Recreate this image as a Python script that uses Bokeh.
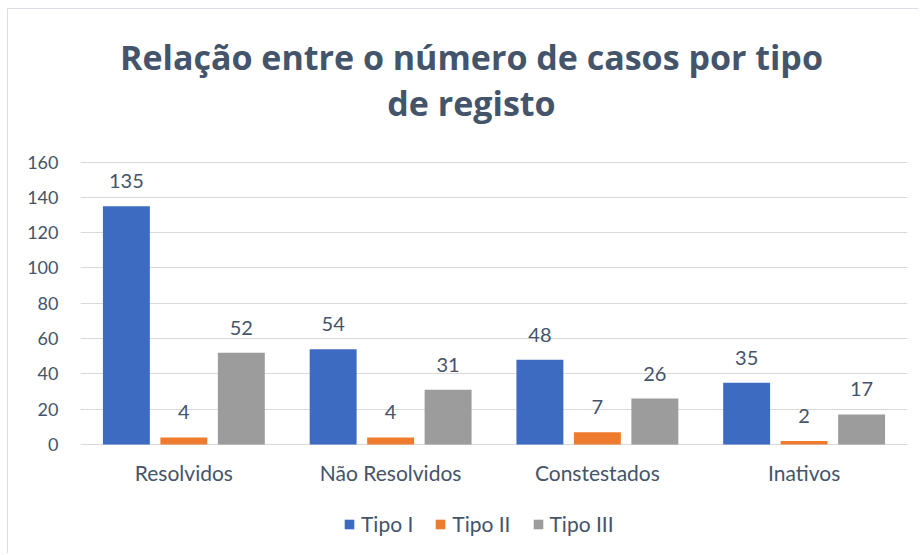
from bokeh.plotting import figure
from bokeh.models import ColumnDataSource, FactorRange, Range1d, Label, LabelSet, Legend, LegendItem
from bokeh.core.properties import value
from bokeh.transform import dodge
from bokeh.embed import file_html
from bokeh.resources import INLINE

categories = ["Resolvidos", "Não Resolvidos", "Constestados", "Inativos"]
tipo_i = [135, 54, 48, 35]
tipo_ii = [4, 4, 7, 2]
tipo_iii = [52, 31, 26, 17]
series_names = ["Tipo I", "Tipo II", "Tipo III"]
y_ticks = [0, 20, 40, 60, 80, 100, 120, 140, 160]
title_lines = ["Relação entre o número de casos por tipo", "de registo"]

colors = ["#3e6bc2", "#ef7c2e", "#9c9c9c"]
TXT = "#44546a"
FONT = "Lato"

src = ColumnDataSource(dict(cat=categories, a=tipo_i, b=tipo_ii, c=tipo_iii,
                            la=[str(v) for v in tipo_i], lb=[str(v) for v in tipo_ii],
                            lc=[str(v) for v in tipo_iii]))

# vertical mapping: 160 units over 282.5 px; frame extends above/below for title and legend
PX = 282.5 / 160.0
p = figure(x_range=FactorRange(*categories, range_padding=0),
           y_range=Range1d(-110 / PX, 160 + 152.5 / PX),
           width=911, height=545, output_backend="svg", toolbar_location=None,
           x_axis_location=None,
           min_border_left=72, min_border_right=12, min_border_top=0, min_border_bottom=0)
p.styles = {"margin-left": "7px", "margin-top": "8px",
            "border-top": "1px solid #dcdde7", "border-left": "1px solid #dcdde7"}
p.outline_line_color = None
p.background_fill_color = "white"
p.border_fill_color = "white"

offs = [-0.278, 0.0, 0.278]
cols = ["a", "b", "c"]
lcols = ["la", "lb", "lc"]
rends = []
for off, col, lc, colr in zip(offs, cols, lcols, colors):
    r = p.vbar(x=dodge("cat", off, range=p.x_range), top=col, width=0.227, source=src,
               fill_color=colr, line_color=None)
    rends.append(r)
    ls = LabelSet(x=dodge("cat", off, range=p.x_range), y=col, text=lc, source=src,
                  text_align="center", text_baseline="alphabetic", y_offset=18,
                  text_font=value(FONT), text_font_size="20px", text_color=TXT)
    p.add_layout(ls)

# category labels under the baseline
p.add_layout(LabelSet(x="cat", y=0, text="cat", source=src, text_align="center",
                      text_baseline="alphabetic", y_offset=-36.5,
                      text_font=value(FONT), text_font_size="21px", text_color=TXT))

# y axis
p.yaxis.ticker = y_ticks
p.yaxis.axis_line_color = None
p.yaxis.major_tick_line_color = None
p.yaxis.minor_tick_line_color = None
p.yaxis.major_tick_out = 0
p.yaxis.major_label_standoff = 22
p.yaxis.major_label_text_font = FONT
p.yaxis.major_label_text_font_size = "18px"
p.yaxis.major_label_text_color = TXT

p.xgrid.grid_line_color = None
p.ygrid.grid_line_color = "#d9d9d9"
p.ygrid.ticker = y_ticks

# title
for txt, yv in zip(title_lines, [(444 - 56) / PX, (444 - 102) / PX]):
    p.add_layout(Label(x=1.891, y=yv, text=txt, text_align="center", text_baseline="alphabetic",
                       text_font="Open Sans", text_font_style="bold", text_font_size="34px",
                       text_color=TXT))

legend = Legend(items=[LegendItem(label=n, renderers=[r]) for n, r in zip(series_names, rends)],
                orientation="horizontal", location=(263, 18), padding=0, margin=0,
                spacing=21, label_standoff=6, glyph_width=12, glyph_height=12,
                label_height=22, label_text_font=FONT, label_text_font_size="21px",
                label_text_color=TXT, background_fill_alpha=0, border_line_color=None)
p.add_layout(legend)

open("out.html", "w").write(file_html(p, INLINE))
